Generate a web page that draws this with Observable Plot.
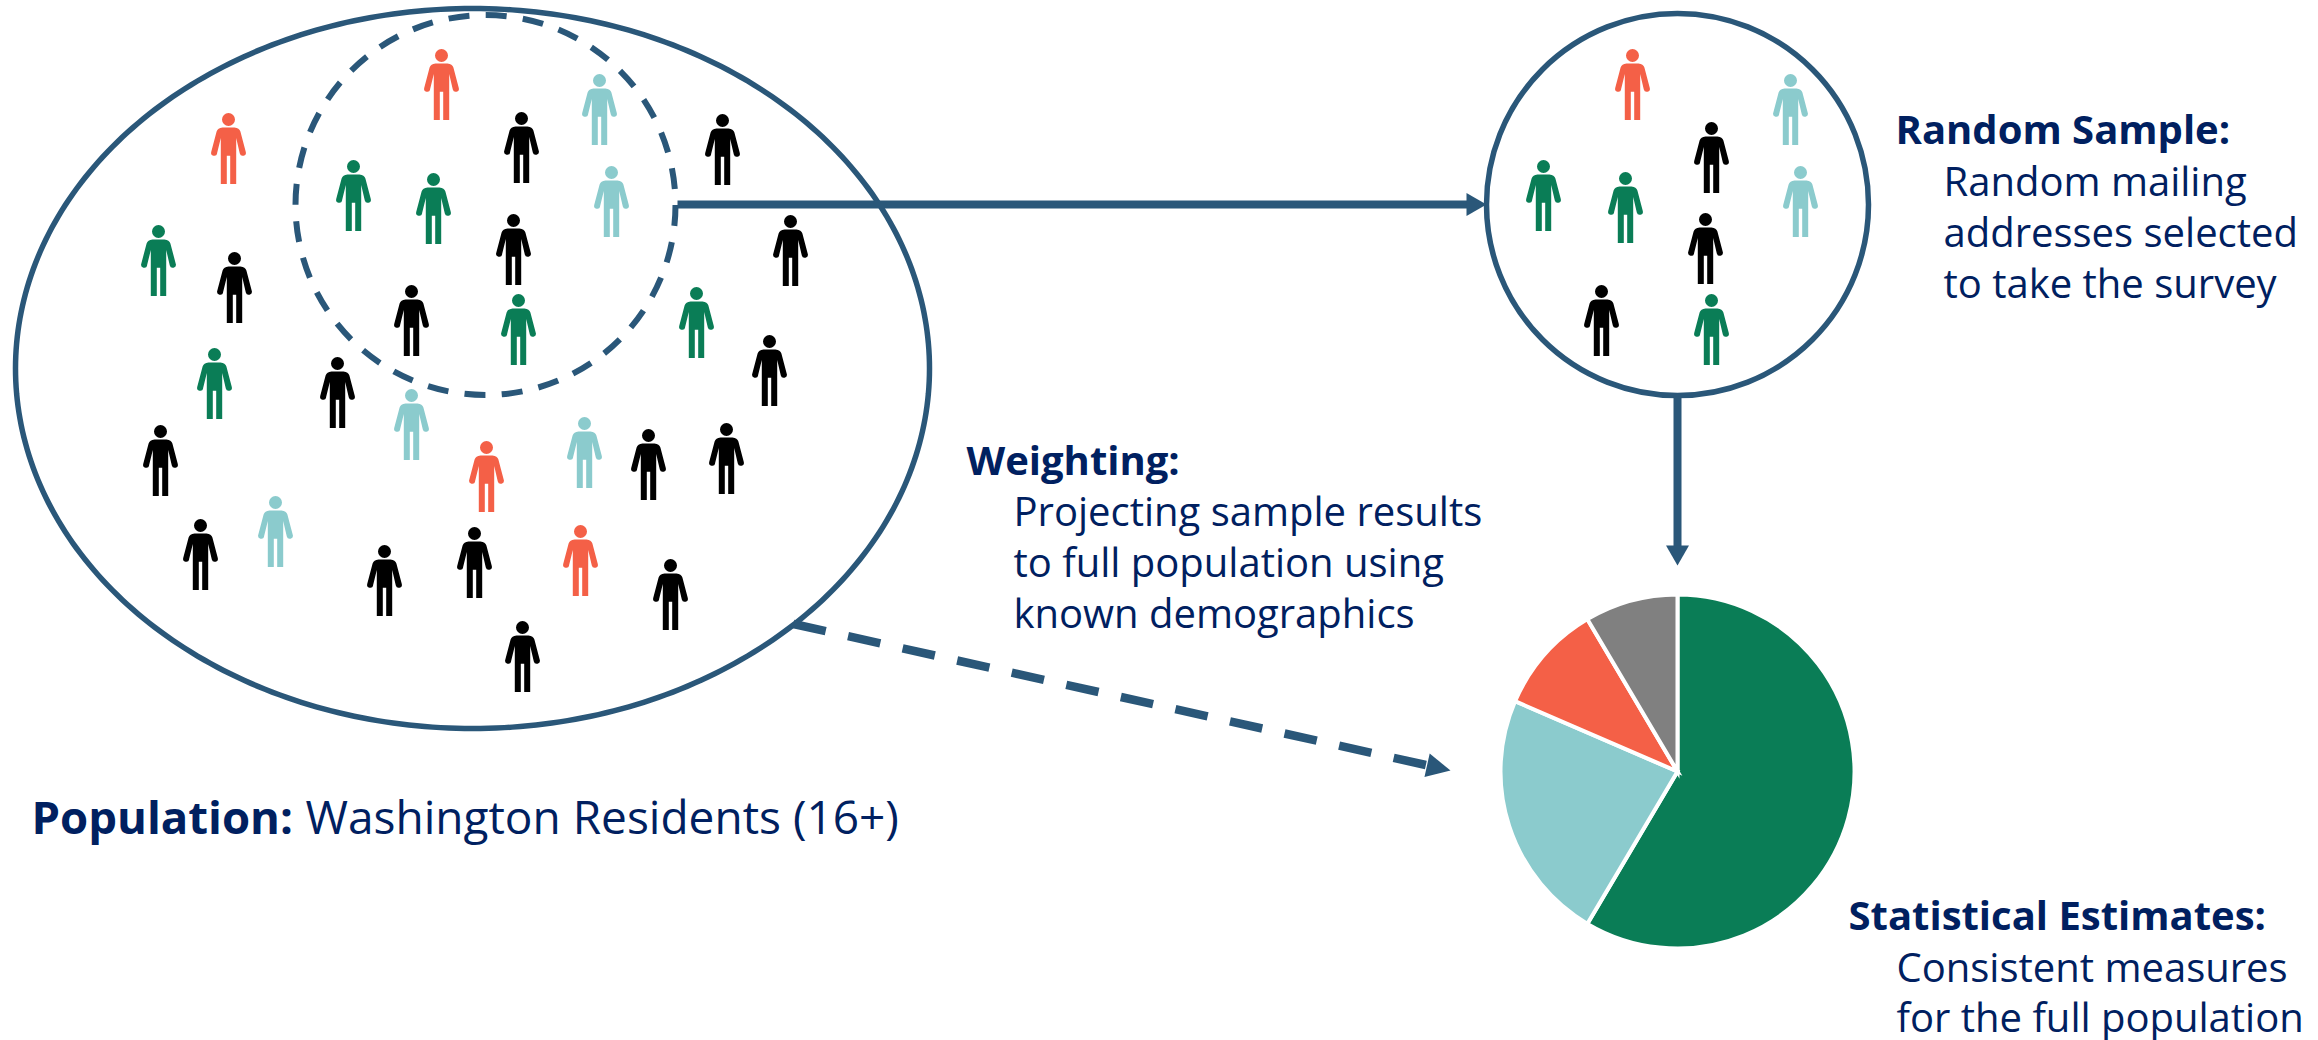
<!DOCTYPE html>
<html>
<head>
<meta charset="utf-8">
<script src="https://cdn.jsdelivr.net/npm/d3@7"></script>
<script src="https://cdn.jsdelivr.net/npm/@observablehq/plot@0.6"></script>
<style>html,body{margin:0;padding:0;background:#fff}svg{display:block}</style>
</head>
<body>
<div id="chart"></div>
<script>
const RED = "#F46047", GREEN = "#0A7D56", TEAL = "#8BCBCD", BLACK = "#000000", GREY = "#808080";
const LINE = "#2A5779", NAVY = "#002060";
const FONT = "'Open Sans', sans-serif";

const populationX = [228,441,599,521,722,353,433,611,513,790,158,234,411,518,696,769,214,337,411,584,648,726,486,160,275,200,474,580,384,670,522];
const populationY = [148,84,109,147,149,195,208,201,249,250,260,287,320,329,322,370,383,392,424,452,464,458,476,460,531,554,562,560,580,594,656];
const populationColor = [RED,RED,TEAL,BLACK,BLACK,GREEN,GREEN,TEAL,BLACK,BLACK,GREEN,BLACK,BLACK,GREEN,GREEN,BLACK,GREEN,BLACK,TEAL,TEAL,BLACK,BLACK,RED,BLACK,TEAL,BLACK,BLACK,RED,BLACK,BLACK,BLACK];

const sampleX = [1632,1790,1711,1543,1625,1800,1705,1601,1711];
const sampleY = [84,109,157,195,207,201,248,320,329];
const sampleColor = [RED,TEAL,BLACK,GREEN,GREEN,TEAL,BLACK,BLACK,GREEN];

const pieValues = [58.5,23,10,8.5];
const pieColors = [GREEN,TEAL,RED,GREY];
const pieCenter = {x:1677,y:771,r:177};

const boldLabels = ["Random Sample:","Weighting:","Statistical Estimates:"];
const boldX = [1895,966,1848];
const boldY = [143,474,929];
const bodyLabels = ["Random mailing","addresses selected","to take the survey","Projecting sample results","to full population using","known demographics","Consistent measures","for the full population"];
const bodyX = [1943,1943,1943,1013,1013,1013,1896,1896];
const bodyY = [195,246,297,525,576,627,981,1031];
const populationBold = ["Population:"];
const populationBody = ["Washington Residents (16+)"];

// Person pictogram, drawn around its own centre
const person = {draw(c){
  c.moveTo(6.5,-29); c.arc(0,-29,6.5,0,2*Math.PI); c.closePath();
  c.moveTo(0,-21);
  c.lineTo(6,-21); c.quadraticCurveTo(10.8,-20.4,11.9,-17);
  c.lineTo(17.3,3.4); c.arc(14.3,4.2,3.1,-0.25,Math.PI*0.92,false);
  c.lineTo(7.7,-10.5); c.lineTo(7.7,35.5); c.lineTo(1.7,35.5); c.lineTo(1.7,7.2);
  c.lineTo(-1.7,7.2); c.lineTo(-1.7,35.5); c.lineTo(-7.7,35.5); c.lineTo(-7.7,-10.5);
  c.lineTo(-11.5,5); c.arc(-14.3,4.2,3.1,Math.PI*0.08,Math.PI+0.25,false);
  c.lineTo(-11.9,-17); c.quadraticCurveTo(-10.8,-20.4,-6,-21);
  c.closePath();
}};
const head = {draw(c){ c.moveTo(2,0); c.lineTo(-18,-11.5); c.lineTo(-18,11.5); c.closePath(); }};
const bigHead = {draw(c){ c.moveTo(0,0); c.lineTo(-24,-12); c.lineTo(-24,12); c.closePath(); }};

const sliceArcs = d3.pie().sort(null)(pieValues);
const sliceSymbol = a => ({draw(c,size){
  const r = Math.sqrt(size/Math.PI);
  c.moveTo(0,0);
  c.arc(0,0,r,a.startAngle-Math.PI/2,a.endAngle-Math.PI/2);
  c.closePath();
}});

const ellipse = {cx:472,cy:368,rx:457,ry:360};
const ellipsePts = d3.range(361).map(d=>({x:ellipse.cx+ellipse.rx*Math.cos(d*Math.PI/180),y:ellipse.cy+ellipse.ry*Math.sin(d*Math.PI/180)}));
const peopleTable = (xs,ys,cs)=>xs.map((x,i)=>({x,y:ys[i],color:cs[i]}));
const labelTable = (ts,xs,ys)=>ts.map((t,i)=>({t,x:xs[i],y:ys[i]}));

const arrows = [{x1:677,y1:204,x2:1470,y2:204},{x1:1677,y1:396,x2:1677,y2:548}];
const arrowTips = [{x:1484,y:204,a:0},{x:1677,y:563,a:90}];
const dashedArrow = [{x1:793,y1:623.5,x2:1432,y2:766}];
const dashedTip = [{x:1450,y:770,a:12.57}];

const plot = Plot.plot({
  width:2318,height:1040,
  margin:0,marginTop:0,marginRight:0,marginBottom:0,marginLeft:0,
  x:{domain:[0,2318],range:[0,2318],axis:null},
  y:{domain:[0,1040],range:[0,1040],axis:null},
  style:{background:"#fff",overflow:"visible"},
  marks:[
    Plot.line(ellipsePts,{x:"x",y:"y",stroke:LINE,strokeWidth:5.5}),
    Plot.dot([{x:485,y:204.5}],{x:"x",y:"y",r:190,stroke:LINE,strokeWidth:6,strokeDasharray:"21 16.3",fill:"none"}),
    Plot.dot([{x:1677,y:204}],{x:"x",y:"y",r:191,stroke:LINE,strokeWidth:5.5,fill:"none"}),
    Plot.link(arrows,{x1:"x1",y1:"y1",x2:"x2",y2:"y2",stroke:LINE,strokeWidth:8,strokeLinecap:"butt"}),
    Plot.link(dashedArrow,{x1:"x1",y1:"y1",x2:"x2",y2:"y2",stroke:LINE,strokeWidth:8.5,strokeDasharray:"33 22.9",strokeLinecap:"butt"}),
    Plot.dot(arrowTips,{x:"x",y:"y",rotate:"a",symbol:head,r:10,fill:LINE,stroke:"none"}),
    Plot.dot(dashedTip,{x:"x",y:"y",rotate:"a",symbol:bigHead,r:10,fill:LINE,stroke:"none"}),
    Plot.dot(peopleTable(populationX,populationY,populationColor),{x:"x",y:"y",symbol:person,r:10,fill:d=>d.color,stroke:"none"}),
    Plot.dot(peopleTable(sampleX,sampleY,sampleColor),{x:"x",y:"y",symbol:person,r:10,fill:d=>d.color,stroke:"none"}),
    ...sliceArcs.map((a,i)=>Plot.dot([pieCenter],{x:"x",y:"y",symbol:sliceSymbol(a),r:pieCenter.r,fill:pieColors[i],stroke:"#fff",strokeWidth:4})),
    Plot.text(labelTable(boldLabels,boldX,boldY),{x:"x",y:"y",text:"t",textAnchor:"start",lineAnchor:"bottom",fontFamily:FONT,fontWeight:700,fontSize:40,fill:NAVY}),
    Plot.text(labelTable(bodyLabels,bodyX,bodyY),{x:"x",y:"y",text:"t",textAnchor:"start",lineAnchor:"bottom",fontFamily:FONT,fontWeight:400,fontSize:40,fill:NAVY}),
    Plot.text(labelTable(populationBold,[31],[833]),{x:"x",y:"y",text:"t",textAnchor:"start",lineAnchor:"bottom",fontFamily:FONT,fontWeight:700,fontSize:45.5,fill:NAVY}),
    Plot.text(labelTable(populationBody,[305],[833]),{x:"x",y:"y",text:"t",textAnchor:"start",lineAnchor:"bottom",fontFamily:FONT,fontWeight:400,fontSize:46,fill:NAVY})
  ]
});
document.getElementById("chart").appendChild(plot);
</script>
</body>
</html>
